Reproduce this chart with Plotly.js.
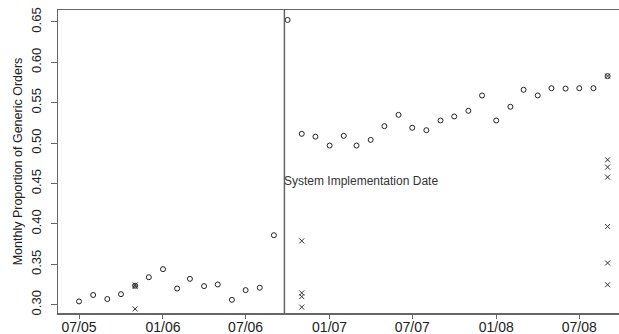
<!DOCTYPE html>
<html>
<head>
<meta charset="utf-8">
<script src="https://cdn.plot.ly/plotly-3.0.1.min.js"></script>
<style>html,body{margin:0;padding:0;background:#fff;}#chart{width:619px;height:334px;}</style>
</head>
<body>
<div id="chart"></div>
<script>
// Monthly proportion of generic orders (open circles)
const circleMonths = [
  '2005-07-01','2005-08-01','2005-09-01','2005-10-01','2005-11-01','2005-12-01',
  '2006-01-01','2006-02-01','2006-03-01','2006-04-01','2006-05-01','2006-06-01',
  '2006-07-01','2006-08-01','2006-09-01','2006-10-01','2006-11-01','2006-12-01',
  '2007-01-01','2007-02-01','2007-03-01','2007-04-01','2007-05-01','2007-06-01',
  '2007-07-01','2007-08-01','2007-09-01','2007-10-01','2007-11-01','2007-12-01',
  '2008-01-01','2008-02-01','2008-03-01','2008-04-01','2008-05-01','2008-06-01',
  '2008-07-01','2008-08-01','2008-09-01'
];
const circleValues = [
  0.304, 0.312, 0.307, 0.313, 0.3235, 0.334,
  0.344, 0.320, 0.332, 0.323, 0.325, 0.306,
  0.318, 0.321, 0.386, 0.6525, 0.5115, 0.508,
  0.497, 0.509, 0.497, 0.504, 0.521, 0.535,
  0.519, 0.516, 0.528, 0.533, 0.540, 0.559,
  0.528, 0.545, 0.566, 0.559, 0.568, 0.5675,
  0.568, 0.568, 0.583
];
// Individual values (crosses)
const crossMonths = [
  '2005-11-01','2005-11-01','2005-11-01',
  '2006-11-01','2006-11-01','2006-11-01','2006-11-01',
  '2008-09-01','2008-09-01','2008-09-01','2008-09-01','2008-09-01','2008-09-01','2008-09-01'
];
const crossValues = [
  0.3245, 0.3225, 0.2947,
  0.379, 0.3145, 0.310, 0.297,
  0.583, 0.4793, 0.4703, 0.4579, 0.3968, 0.3516, 0.3247
];
const xTickVals = ['2005-07-01','2006-01-01','2006-07-01','2007-01-01','2007-07-01','2008-01-01','2008-07-01'];
const xTickText = ['07/05','01/06','07/06','01/07','07/07','01/08','07/08'];
const yTickVals = [0.30, 0.35, 0.40, 0.45, 0.50, 0.55, 0.60, 0.65];
const yTickText = ['0.30','0.35','0.40','0.45','0.50','0.55','0.60','0.65'];
const implementationDate = '2006-09-24';
const implementationLabel = 'System Implementation Date';
const implementationLabelY = 0.4525;

const font = 'Liberation Sans, Arial, Helvetica, sans-serif';
const ink = '#222';
const axisCol = '#666';

const traces = [
  {
    x: circleMonths, y: circleValues, type: 'scatter', mode: 'markers',
    marker: {symbol: 'circle-open', size: 5, color: ink, line: {width: 1, color: ink}},
    hoverinfo: 'x+y', showlegend: false, cliponaxis: false
  },
  {
    x: crossMonths, y: crossValues, type: 'scatter', mode: 'markers',
    marker: {symbol: 'x-thin-open', size: 5, color: '#333', line: {width: 1, color: '#333'}},
    hoverinfo: 'x+y', showlegend: false, cliponaxis: false
  }
];

const layout = {
  width: 619, height: 334,
  margin: {l: 58, r: 0, t: 10, b: 21, pad: 0},
  paper_bgcolor: '#fff', plot_bgcolor: '#fff',
  font: {family: font, color: ink, size: 12},
  showlegend: false,
  xaxis: {
    type: 'date',
    range: ['2005-05-16', '2008-09-26'],
    tickmode: 'array', tickvals: xTickVals, ticktext: xTickText,
    ticks: 'outside', ticklen: 4, tickwidth: 1, tickcolor: axisCol,
    ticklabelstandoff: -3,
    tickfont: {family: font, size: 14, color: ink},
    showgrid: false, zeroline: false,
    showline: true, linecolor: axisCol, linewidth: 1.5, mirror: true,
    automargin: false
  },
  yaxis: {
    range: [0.2897, 0.6648],
    tickmode: 'array', tickvals: yTickVals, ticktext: yTickText,
    tickangle: -90,
    ticks: 'outside', ticklen: 6, tickwidth: 1, tickcolor: axisCol,
    ticklabelstandoff: 4,
    tickfont: {family: font, size: 13, color: ink},
    showgrid: false, zeroline: false,
    showline: true, linecolor: axisCol, linewidth: 1.5, mirror: false,
    automargin: false,
    title: {text: 'Monthly Proportion of Generic Orders', font: {family: font, size: 12.5, color: ink}, standoff: 4}
  },
  shapes: [{
    type: 'line', xref: 'x', yref: 'paper',
    x0: implementationDate, x1: implementationDate, y0: 0, y1: 1,
    line: {color: axisCol, width: 1.5}
  }],
  annotations: [{
    xref: 'x', yref: 'y', x: implementationDate, y: implementationLabelY,
    text: implementationLabel, showarrow: false,
    xanchor: 'left', yanchor: 'middle', xshift: -2,
    font: {family: font, size: 12, color: '#333'}
  }]
};

Plotly.newPlot('chart', traces, layout, {displayModeBar: false, staticPlot: true});
</script>
</body>
</html>
